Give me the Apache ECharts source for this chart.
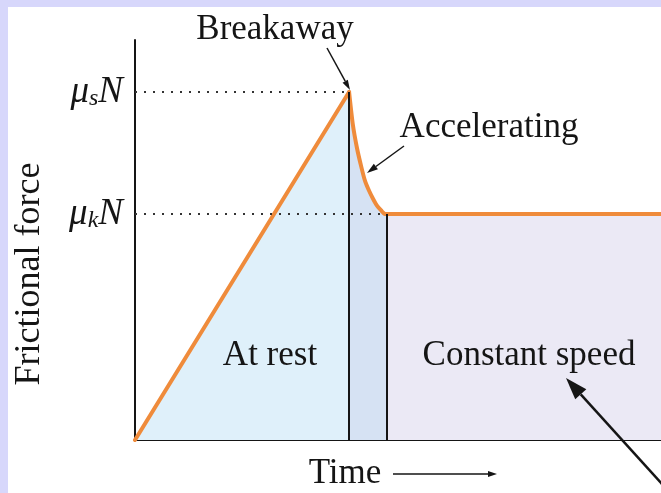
<!DOCTYPE html>
<html>
<head>
<meta charset="utf-8">
<script src="https://cdn.jsdelivr.net/npm/echarts@6/dist/echarts.min.js"></script>
<style>
  html, body { margin: 0; padding: 0; background: #fff; }
  #main { width: 661px; height: 493px; }
</style>
</head>
<body>
<div id="main"></div>
<script>
// friction levels (axis units)
var muS = 8.7;   // static friction  μsN
var muK = 5.65;  // kinetic friction μkN

// at rest: force rises linearly up to breakaway
var timeRest = [0, 4.07];
var forceRest = [0, 8.7];

// accelerating: force drops from μsN to μkN
var timeAccel = [4.07, 4.14, 4.22, 4.30, 4.37, 4.45, 4.53, 4.60, 4.68, 4.75, 4.79];
var forceAccel = [8.7, 7.90, 7.30, 6.84, 6.49, 6.23, 6.02, 5.86, 5.74, 5.65, 5.65];

// constant speed
var timeConst = [4.79, 10];
var forceConst = [5.65, 5.65];

var levelLabels = ['s', 'k'];

var SERIF = 'Liberation Serif, Times New Roman, serif';
var ORANGE = '#ef8b3b';
var INK = '#151515';

function pairs(xs, ys) {
	var out = [];
	for (var i = 0; i < xs.length; i++) {
		out.push([xs[i], ys[i]]);
	}
	return out;
}

// arrow: line + filled head
function arrow(x1, y1, x2, y2, len, wid, lw) {
	var a = Math.atan2(y2 - y1, x2 - x1);
	var bx = x2 - len * Math.cos(a), by = y2 - len * Math.sin(a);
	var px = Math.sin(a) * wid / 2, py = -Math.cos(a) * wid / 2;
	return [
		{ type: 'line', z: 10, shape: { x1: x1, y1: y1, x2: bx, y2: by },
		  style: { stroke: INK, lineWidth: lw } },
		{ type: 'polygon', z: 10, shape: { points: [[x2, y2], [bx + px, by + py], [bx - px, by - py]] },
		  style: { fill: INK } }
	];
}

function txt(s, x, y, size, extra) {
	var o = { type: 'text', x: x, y: y, z: 10,
		style: { text: s, font: (size || 35) + 'px ' + SERIF, fill: INK, align: 'center', verticalAlign: 'middle' } };
	if (extra) { for (var k in extra) o[k] = extra[k]; }
	return o;
}

var graphics = [
	// lavender frame
	{ type: 'rect', shape: { x: 0, y: 0, width: 661, height: 7 }, style: { fill: '#d7d7fb' }, z: 20 },
	{ type: 'rect', shape: { x: 0, y: 0, width: 8, height: 493 }, style: { fill: '#d7d7fb' }, z: 20 },
	txt('Breakaway', 275, 30),
	txt('Accelerating', 489, 128),
	txt('At rest', 270, 356),
	txt('Constant speed', 529, 356),
	txt('Time', 345, 474),
	txt('Frictional force', 30, 274, 36, { rotation: Math.PI / 2 })
];
graphics = graphics
	.concat(arrow(327, 48, 350, 90, 10, 6, 1.5))
	.concat(arrow(404, 146, 367, 173, 11, 7, 1.5))
	.concat(arrow(672, 495, 566, 378, 22, 15, 2.5))
	.concat(arrow(393, 474, 497, 474, 9, 6, 1.5));

var areaBase = {
	type: 'line', symbol: 'none', z: 1, silent: true,
	lineStyle: { width: 0 }
};

var chart = echarts.init(document.getElementById('main'), null, { renderer: 'canvas' });

var option = {
	animation: false,
	backgroundColor: '#ffffff',
	grid: { left: 135, right: 0, top: 40, bottom: 53 },
	xAxis: {
		type: 'value', min: 0, max: 10,
		axisLine: { show: true, lineStyle: { color: INK, width: 2 } },
		axisTick: { show: false },
		axisLabel: { show: false },
		splitLine: { show: false }
	},
	yAxis: {
		type: 'value', min: 0, max: 10,
		axisLine: { show: true, lineStyle: { color: INK, width: 2 } },
		axisTick: { show: false },
		splitLine: { show: false },
		axisLabel: {
			customValues: [muK, muS],
			margin: 12,
			formatter: function (v) {
				var sub = v === muS ? levelLabels[0] : levelLabels[1];
				return '{m|μ}{s|' + sub + '}{m|N}';
			},
			rich: {
				m: { fontFamily: SERIF, fontStyle: 'italic', fontSize: 37, color: INK },
				s: { fontFamily: SERIF, fontStyle: 'italic', fontSize: 24, color: INK, padding: [14, 0, 0, 0], verticalAlign: 'bottom' }
			}
		}
	},
	graphic: graphics,
	series: [
		// fills
		Object.assign({}, areaBase, { data: pairs(timeRest, forceRest), areaStyle: { color: '#dff0fa', opacity: 1 } }),
		Object.assign({}, areaBase, { data: pairs(timeAccel, forceAccel), smooth: 0.2, areaStyle: { color: '#d6e2f3', opacity: 1 } }),
		Object.assign({}, areaBase, { data: pairs(timeConst, forceConst), areaStyle: { color: '#ebe9f5', opacity: 1 } }),
		// guide lines
		{
			type: 'line', data: [], z: 2, silent: true,
			markLine: {
				silent: true, symbol: 'none', label: { show: false },
				data: [
					[{ coord: [0, muS], lineStyle: { type: [2, 7], width: 2, color: '#333' } }, { coord: [timeRest[1], muS] }],
					[{ coord: [0, muK], lineStyle: { type: [2, 7], width: 2, color: '#333' } }, { coord: [timeAccel[9], muK] }],
					[{ coord: [timeRest[1], 0], lineStyle: { type: 'solid', width: 2, color: INK } }, { coord: [timeRest[1], muS] }],
					[{ coord: [timeConst[0], 0], lineStyle: { type: 'solid', width: 2, color: INK } }, { coord: [timeConst[0], muK] }]
				]
			}
		},
		// friction force curve
		{ type: 'line', symbol: 'none', z: 3, data: pairs(timeRest, forceRest),
		  lineStyle: { color: ORANGE, width: 4, cap: 'round', join: 'round' } },
		{ type: 'line', symbol: 'none', z: 3, data: pairs(timeAccel, forceAccel), smooth: 0.2,
		  lineStyle: { color: ORANGE, width: 4, cap: 'round', join: 'round' } },
		{ type: 'line', symbol: 'none', z: 3, data: pairs(timeConst, forceConst),
		  lineStyle: { color: ORANGE, width: 4, cap: 'round', join: 'round' } }
	]
};

chart.setOption(option);
</script>
</body>
</html>
